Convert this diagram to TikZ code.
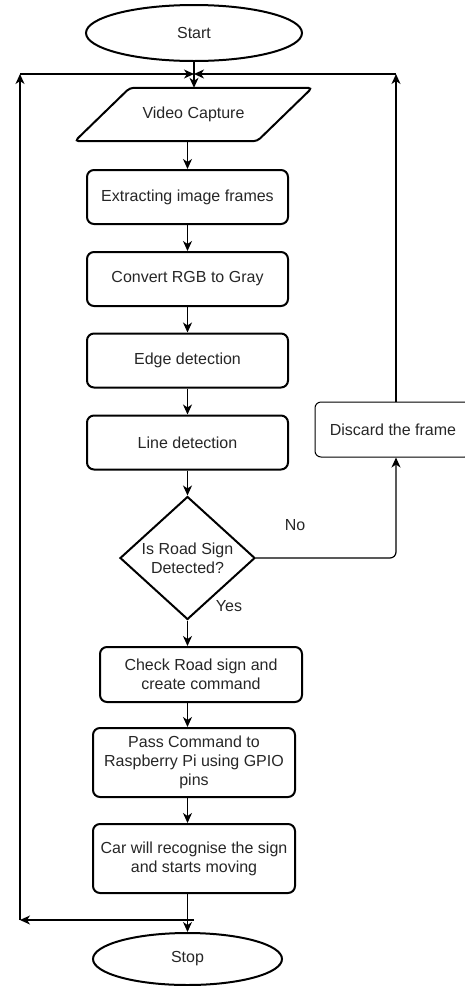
\documentclass[tikz,border=0pt]{standalone}
\usepackage{fontspec}
\setmainfont{Liberation Sans}
\usetikzlibrary{shapes.geometric,arrows.meta,calc}
\begin{document}
\begin{tikzpicture}[x=1pt,y=-1pt,
  txt/.style={font=\fontsize{16}{19}\selectfont, text=black!85, align=center},
  proc/.style={txt, draw=black, line width=2pt, rounded corners=7pt, minimum width=201pt, minimum height=54pt, inner sep=0pt},
  term/.style={txt, draw=black, line width=2pt, ellipse, inner sep=0pt},
  flow/.style={draw=black, line width=1.2pt, -{Stealth[length=10pt,width=9pt,inset=3pt]}},
  plain/.style={draw=black, line width=1.2pt}
]
\useasboundingbox (0,0) rectangle (465,986);

% nodes
\node[term, minimum width=216pt, minimum height=56pt] (start) at (194,33) {Start};
\node[txt, minimum width=237pt, minimum height=53pt, inner sep=0pt] (video) at (193.5,114.5) {Video Capture};
\draw[line width=2pt, rounded corners=4pt] ($(video.north west)+(55,0)$) -- (video.north east)
   -- ($(video.south east)+(-55,0)$) -- (video.south west) -- cycle;
\node[proc] (extract) at (187.5,197) {Extracting image frames};
\node[proc] (convert) at (187.5,279) {Convert RGB to Gray};
\node[proc] (edge) at (187.5,360.5) {Edge detection};
\node[proc] (line) at (187.5,442.5) {Line detection};
\node[txt, draw=black, line width=2pt, diamond, aspect=1.1, inner sep=0pt,
      minimum width=135pt, minimum height=123pt] (dec) at (187.5,558) {Is Road Sign\\Detected?};
\node[proc, minimum width=202pt, minimum height=55pt, font=\fontsize{16}{18.5}\selectfont] (check) at (201,674.5) {Check Road sign and\\create command};
\node[proc, minimum width=202pt, minimum height=69pt] (pass) at (194,762.5) {Pass Command to\\Raspberry Pi using GPIO\\pins};
\node[proc, minimum width=202pt, minimum height=69pt] (car) at (194,858.5) {Car will recognise the sign\\and starts moving};
\node[term, minimum width=189pt, minimum height=52pt] (stop) at (187.5,959) {Stop};
\node[txt, draw=black, line width=1pt, rounded corners=6pt, minimum width=156pt, minimum height=55pt, inner sep=0pt] (discard) at (393,429.5) {Discard the frame};

\node[txt] (no) at (295,525) {No};
\node[txt] (yes) at (229,606) {Yes};

% coordinates for loops
\coordinate (tl) at (20,74);
\coordinate (tm) at (194,74);
\coordinate (tr) at (396,74);
\coordinate (bl) at (20,920);
\coordinate (bm) at (194,920);
\coordinate (nr) at (396,558);

% main flow
\draw[flow] (start.south) -- (start.south |- video.north);
\draw[flow] (video.south -| extract.north) -- (extract.north);
\draw[flow] (extract) -- (convert);
\draw[flow] (convert) -- (edge);
\draw[flow] (edge) -- (line);
\draw[flow] (line.south) -- (dec.north);
\draw[flow] (dec.south) -- (dec.south |- check.north);
\draw[flow] (dec.south |- check.south) -- (dec.south |- pass.north);
\draw[flow] (dec.south |- pass.south) -- (dec.south |- car.north);
\draw[flow] (dec.south |- car.south) -- (stop.north);

% No branch
\draw[flow, rounded corners=6pt] (dec.east) -- (nr) -- (nr |- discard.south);

% right loop
\draw[flow] (nr |- discard.north) -- (tr);
\draw[flow] (tr) -- (tm);

% left loop
\draw[flow] (bm) -- (bl);
\draw[flow] (bl) -- (tl);
\draw[flow] (tl) -- (tm);
\end{tikzpicture}
\end{document}
